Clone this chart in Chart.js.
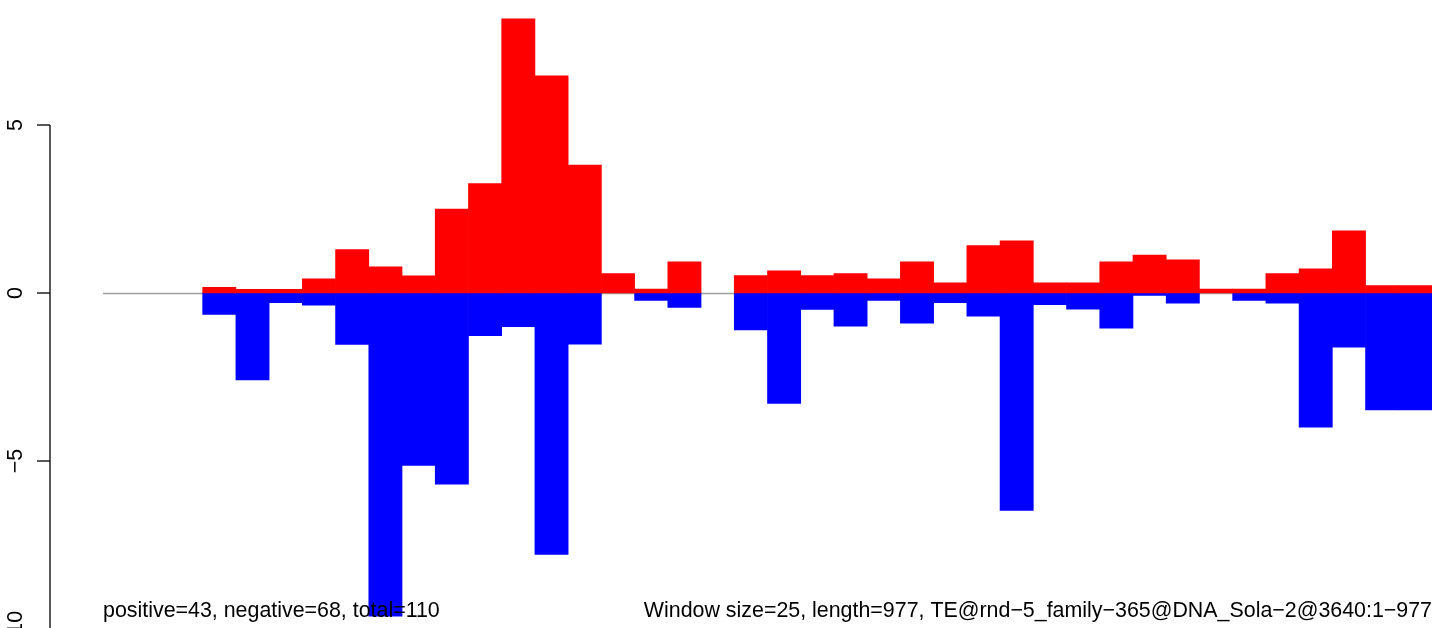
<!DOCTYPE html>
<html>
<head>
<meta charset="utf-8">
<script src="https://cdn.jsdelivr.net/npm/chart.js@4.4.1/dist/chart.umd.min.js"></script>
<style>
  html, body { margin: 0; padding: 0; background: #fff; overflow: hidden; }
  #wrap { position: relative; width: 1436px; height: 629px; }
</style>
</head>
<body>
<div id="wrap"><canvas id="myChart"></canvas></div>
<script>
// one window of 25 bp per bar, 40 windows
var windows = [];
for (var i = 1; i <= 40; i++) windows.push(String(i));

var positive = [null, null, null, 0.17, 0.11, 0.11, 0.42, 1.29, 0.78, 0.51,
                2.5, 3.26, 8.16, 6.46, 3.81, 0.58, 0.12, 0.93, null, 0.52,
                0.66, 0.52, 0.58, 0.42, 0.93, 0.3, 1.41, 1.55, 0.3, 0.3,
                0.93, 1.13, 0.99, 0.12, 0.12, 0.58, 0.72, 1.85, 0.22, 0.22];
var negative = [null, null, null, -0.64, -2.59, -0.29, -0.36, -1.53, -9.62, -5.13,
                -5.69, -1.27, -1.0, -7.78, -1.52, null, -0.22, -0.43, null, -1.1,
                -3.29, -0.49, -0.99, -0.22, -0.9, -0.29, -0.69, -6.47, -0.35, -0.48,
                -1.05, -0.07, -0.3, null, -0.22, -0.3, -3.99, -1.61, -3.48, -3.48];
var yTicks = [5, 0, -5, -10];
var yTickLabels = ['5', '0', '\u22125', '\u221210'];
var leftNote = 'positive=43, negative=68, total=110';
var rightNote = 'Window size=25, length=977, TE@rnd\u22125_family\u2212365@DNA_Sola\u22122@3640:1\u2212977';

var font = '21.4px "Liberation Sans", Arial, Helvetica, sans-serif';

var baseAxis = {
    id: 'baseAxis',
    beforeDatasetsDraw: function(chart) {
        var c = chart.ctx, y = chart.scales.y, area = chart.chartArea;
        var y0 = Math.round(y.getPixelForValue(0)) + 0.5;
        c.save();
        c.strokeStyle = '#9e9e9e';
        c.lineWidth = 1.3;
        c.beginPath();
        c.moveTo(area.left, y0);
        c.lineTo(area.right, y0);
        c.stroke();
        c.restore();
    },
    afterDatasetsDraw: function(chart) {
        var c = chart.ctx, y = chart.scales.y;
        c.save();
        // y axis in the R style: line from the top tick down
        c.strokeStyle = '#000';
        c.lineWidth = 1.3;
        var ax = 50;
        c.beginPath();
        c.moveTo(ax, y.getPixelForValue(yTicks[0]));
        c.lineTo(ax, y.getPixelForValue(yTicks[yTicks.length - 1]));
        c.stroke();
        c.font = font;
        c.fillStyle = '#000';
        c.textAlign = 'center';
        c.textBaseline = 'alphabetic';
        for (var k = 0; k < yTicks.length; k++) {
            var py = Math.round(y.getPixelForValue(yTicks[k]));
            c.beginPath();
            c.moveTo(37, py);
            c.lineTo(ax, py);
            c.stroke();
            c.save();
            c.translate(22, py);
            c.rotate(-Math.PI / 2);
            c.fillText(yTickLabels[k], 0, 0);
            c.restore();
        }
        // notes under the bars
        c.textAlign = 'left';
        c.fillText(leftNote, 103, 617);
        c.textAlign = 'right';
        c.fillText(rightNote, 1432, 617);
        c.restore();
    }
};

var ctx = document.getElementById('myChart').getContext('2d');

chart = new Chart(ctx, {
    type: 'bar',
    data: {
        labels: windows,
        datasets: [{
            label: 'positive',
            data: positive,
            backgroundColor: '#ff0000',
            borderWidth: 0
        }, {
            label: 'negative',
            data: negative,
            backgroundColor: '#0000ff',
            borderWidth: 0
        }]
    },
    options: {
        responsive: true,
        maintainAspectRatio: false,
        animation: false,
        devicePixelRatio: 1,
        layout: {padding: {left: 103, right: 4, top: 0, bottom: 0}},
        datasets: {bar: {barPercentage: 1, categoryPercentage: 1}},
        plugins: {legend: {display: false}, tooltip: {enabled: false}},
        scales: {
            x: {stacked: true, display: false},
            y: {stacked: true, display: false, min: -10, max: 8.72}
        }
    },
    plugins: [baseAxis]
});
</script>
</body>
</html>
